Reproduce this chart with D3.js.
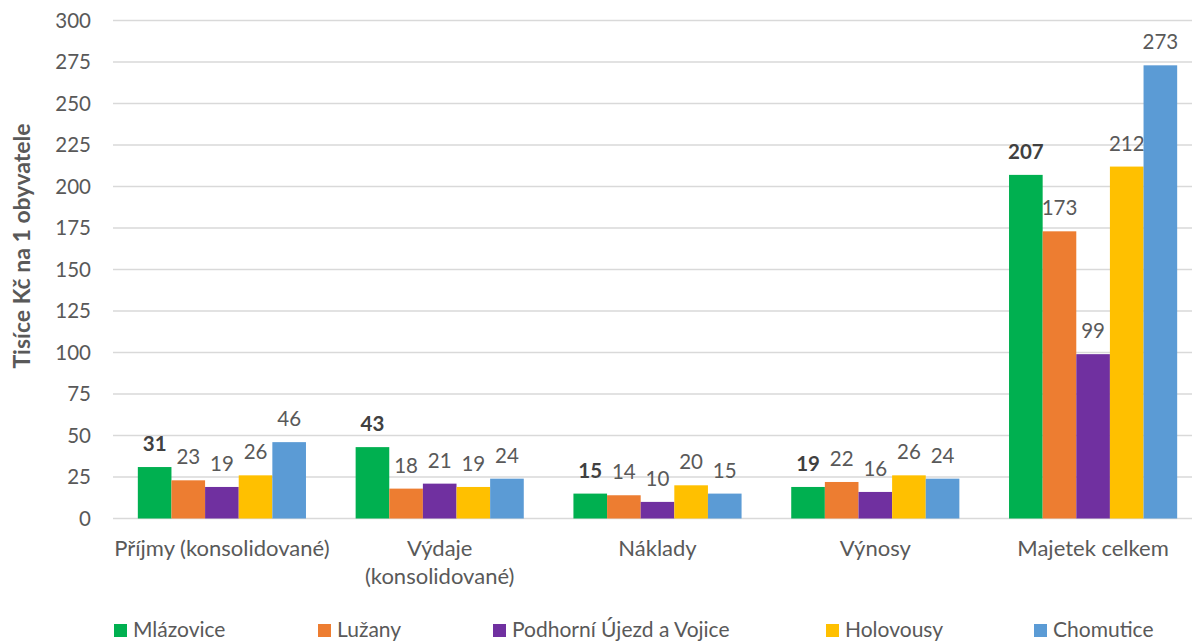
<!DOCTYPE html>
<html><head><meta charset="utf-8">
<script src="https://cdn.jsdelivr.net/npm/d3@7"></script>
<style>body{margin:0;background:#fff}svg{display:block}text{font-family:Lato,"Open Sans",sans-serif}</style>
</head><body>
<script>
const categories = [["Příjmy (konsolidované)"], ["Výdaje", "(konsolidované)"], ["Náklady"], ["Výnosy"], ["Majetek celkem"]];
const seriesNames = ["Mlázovice", "Lužany", "Podhorní Újezd a Vojice", "Holovousy", "Chomutice"];
const mlazovice = [31, 43, 15, 19, 207];
const luzany = [23, 18, 14, 22, 173];
const podhorni = [19, 21, 10, 16, 99];
const holovousy = [26, 19, 20, 26, 212];
const chomutice = [46, 24, 15, 24, 273];
const yTicks = [0, 25, 50, 75, 100, 125, 150, 175, 200, 225, 250, 275, 300];
const colors = ["#00B050", "#ED7D31", "#7030A0", "#FFC000", "#5B9BD5"];
const seriesValues = [mlazovice, luzany, podhorni, holovousy, chomutice];

const W = 1192, H = 641;
const svg = d3.select("body").append("svg").attr("width", W).attr("height", H);

const y = d3.scaleLinear().domain([0, 300]).range([518.5, 20.5]);
const x = d3.scaleBand().domain(d3.range(categories.length)).range([113, 1202]).paddingInner(0.228).paddingOuter(0.114);
const xs = d3.scaleBand().domain(d3.range(seriesNames.length)).range([0, x.bandwidth()]);

// gridlines
svg.append("g").selectAll("line").data(yTicks).join("line")
  .attr("x1", 113).attr("x2", W).attr("y1", d => y(d)).attr("y2", d => y(d))
  .attr("stroke", "#D9D9D9").attr("stroke-width", 1.5);

// y axis tick labels
const yAxis = d3.axisLeft(y).tickValues(yTicks).tickSize(0).tickPadding(0);
const ga = svg.append("g").attr("transform", "translate(91,0)").call(yAxis);
ga.select(".domain").remove();
ga.selectAll("text").attr("fill", "#595959").style("font-size", "20.5px").style("font-family", "Lato,'Open Sans',sans-serif");

// bars
seriesValues.forEach((vals, si) => {
  const g = svg.append("g");
  g.selectAll("rect").data(vals).join("rect")
    .attr("x", (d, i) => x(i) + xs(si)).attr("width", xs.bandwidth())
    .attr("y", d => y(d)).attr("height", d => y(0) - y(d))
    .attr("fill", colors[si]);
  g.selectAll("text").data(vals).join("text")
    .attr("x", (d, i) => x(i) + xs(si) + xs.bandwidth() / 2)
    .attr("y", d => y(d) - 16)
    .attr("text-anchor", "middle")
    .attr("fill", si === 0 ? "#404040" : "#595959")
    .attr("font-weight", si === 0 ? "bold" : "normal")
    .style("font-size", "20.5px")
    .text(d => d);
});

// category labels
const cg = svg.append("g");
categories.forEach((lines, i) => {
  const t = cg.append("text").attr("x", x(i) + x.bandwidth() / 2).attr("y", 556)
    .attr("text-anchor", "middle").attr("fill", "#595959").style("font-size", "22px");
  lines.forEach((l, li) => t.append("tspan").attr("x", x(i) + x.bandwidth() / 2).attr("dy", li === 0 ? 0 : 28).text(l));
});

// y title
svg.append("text").attr("transform", "translate(30,246) rotate(-90)")
  .attr("text-anchor", "middle").attr("fill", "#595959").attr("font-weight", "bold")
  .style("font-size", "23px").text("Tisíce Kč na 1 obyvatele");

// legend
const legendX = [114, 318, 493, 826, 1034];
const lg = svg.append("g");
seriesNames.forEach((n, i) => {
  lg.append("rect").attr("x", legendX[i]).attr("y", 624).attr("width", 13).attr("height", 13).attr("fill", colors[i]);
  lg.append("text").attr("x", legendX[i] + 19).attr("y", 637).attr("fill", "#595959").style("font-size", "21px").text(n);
});
</script>
</body></html>
